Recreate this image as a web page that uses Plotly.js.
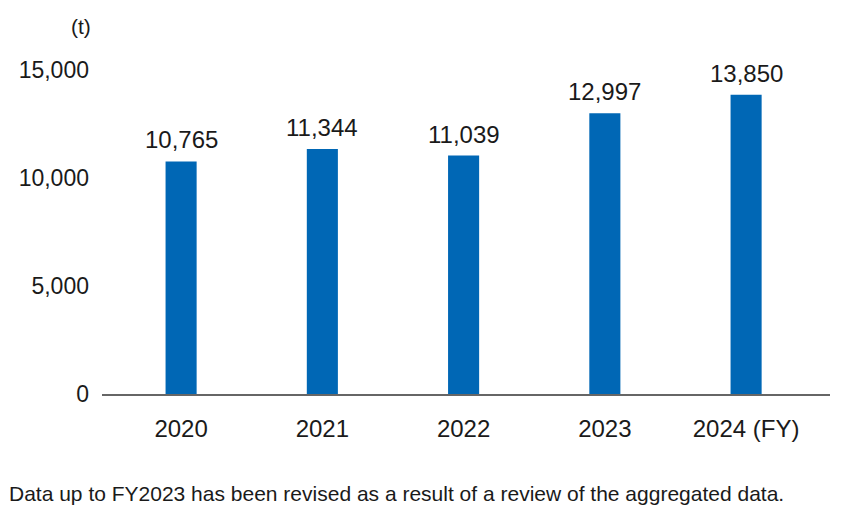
<!DOCTYPE html>
<html>
<head>
<meta charset="utf-8">
<script src="https://cdn.plot.ly/plotly-3.0.1.min.js"></script>
<style>
html,body{margin:0;padding:0;background:#fff;}
#chart{width:852px;height:510px;}
</style>
</head>
<body>
<div id="chart"></div>
<script>
const years = ["2020", "2021", "2022", "2023", "2024 (FY)"];
const values = [10765, 11344, 11039, 12997, 13850];
const yTicks = [0, 5000, 10000, 15000];
const unitLabel = "(t)";
const footnote = "Data up to FY2023 has been revised as a result of a review of the aggregated data.";

const FONT = "Liberation Sans, Arial, Helvetica, sans-serif";
const TXT = "#1a1a1a";

const trace = {
  type: "bar",
  x: years,
  y: values,
  width: 0.22,
  marker: {color: "#0067b5"},
  hoverinfo: "skip"
};

const labels = years.map((c, i) => ({
  x: i, y: values[i], xref: "x", yref: "y",
  text: values[i].toLocaleString("en-US"),
  showarrow: false, yanchor: "bottom", yshift: 6,
  font: {family: FONT, size: 24, color: TXT}
}));

const layout = {
  width: 852, height: 510,
  margin: {l: 102, r: 22, t: 48, b: 116},
  paper_bgcolor: "#fff", plot_bgcolor: "#fff",
  showlegend: false,
  font: {family: FONT, color: TXT},
  xaxis: {
    type: "category",
    range: [-0.56, 4.594],
    showgrid: false, zeroline: false,
    showline: true, linecolor: "#666", linewidth: 1.5,
    ticks: "", ticklabelstandoff: 13,
    tickfont: {family: FONT, size: 24, color: TXT},
    fixedrange: true
  },
  yaxis: {
    range: [0, 16018],
    tickvals: yTicks,
    tickformat: ",d",
    showgrid: false, zeroline: false, showline: false,
    ticks: "", ticklabelstandoff: 12,
    tickfont: {family: FONT, size: 23, color: TXT},
    fixedrange: true
  },
  annotations: labels.concat([
    {xref: "paper", yref: "paper", x: -0.012, y: 1, yshift: 22,
     xanchor: "right", yanchor: "middle", text: unitLabel, showarrow: false,
     font: {family: FONT, size: 21, color: TXT}},
    {xref: "paper", yref: "paper", x: -0.13, y: 0, yshift: -99,
     xanchor: "left", yanchor: "middle", text: footnote, showarrow: false,
     font: {family: FONT, size: 21, color: TXT}}
  ])
};

Plotly.newPlot("chart", [trace], layout, {displayModeBar: false, staticPlot: true});
</script>
</body>
</html>
